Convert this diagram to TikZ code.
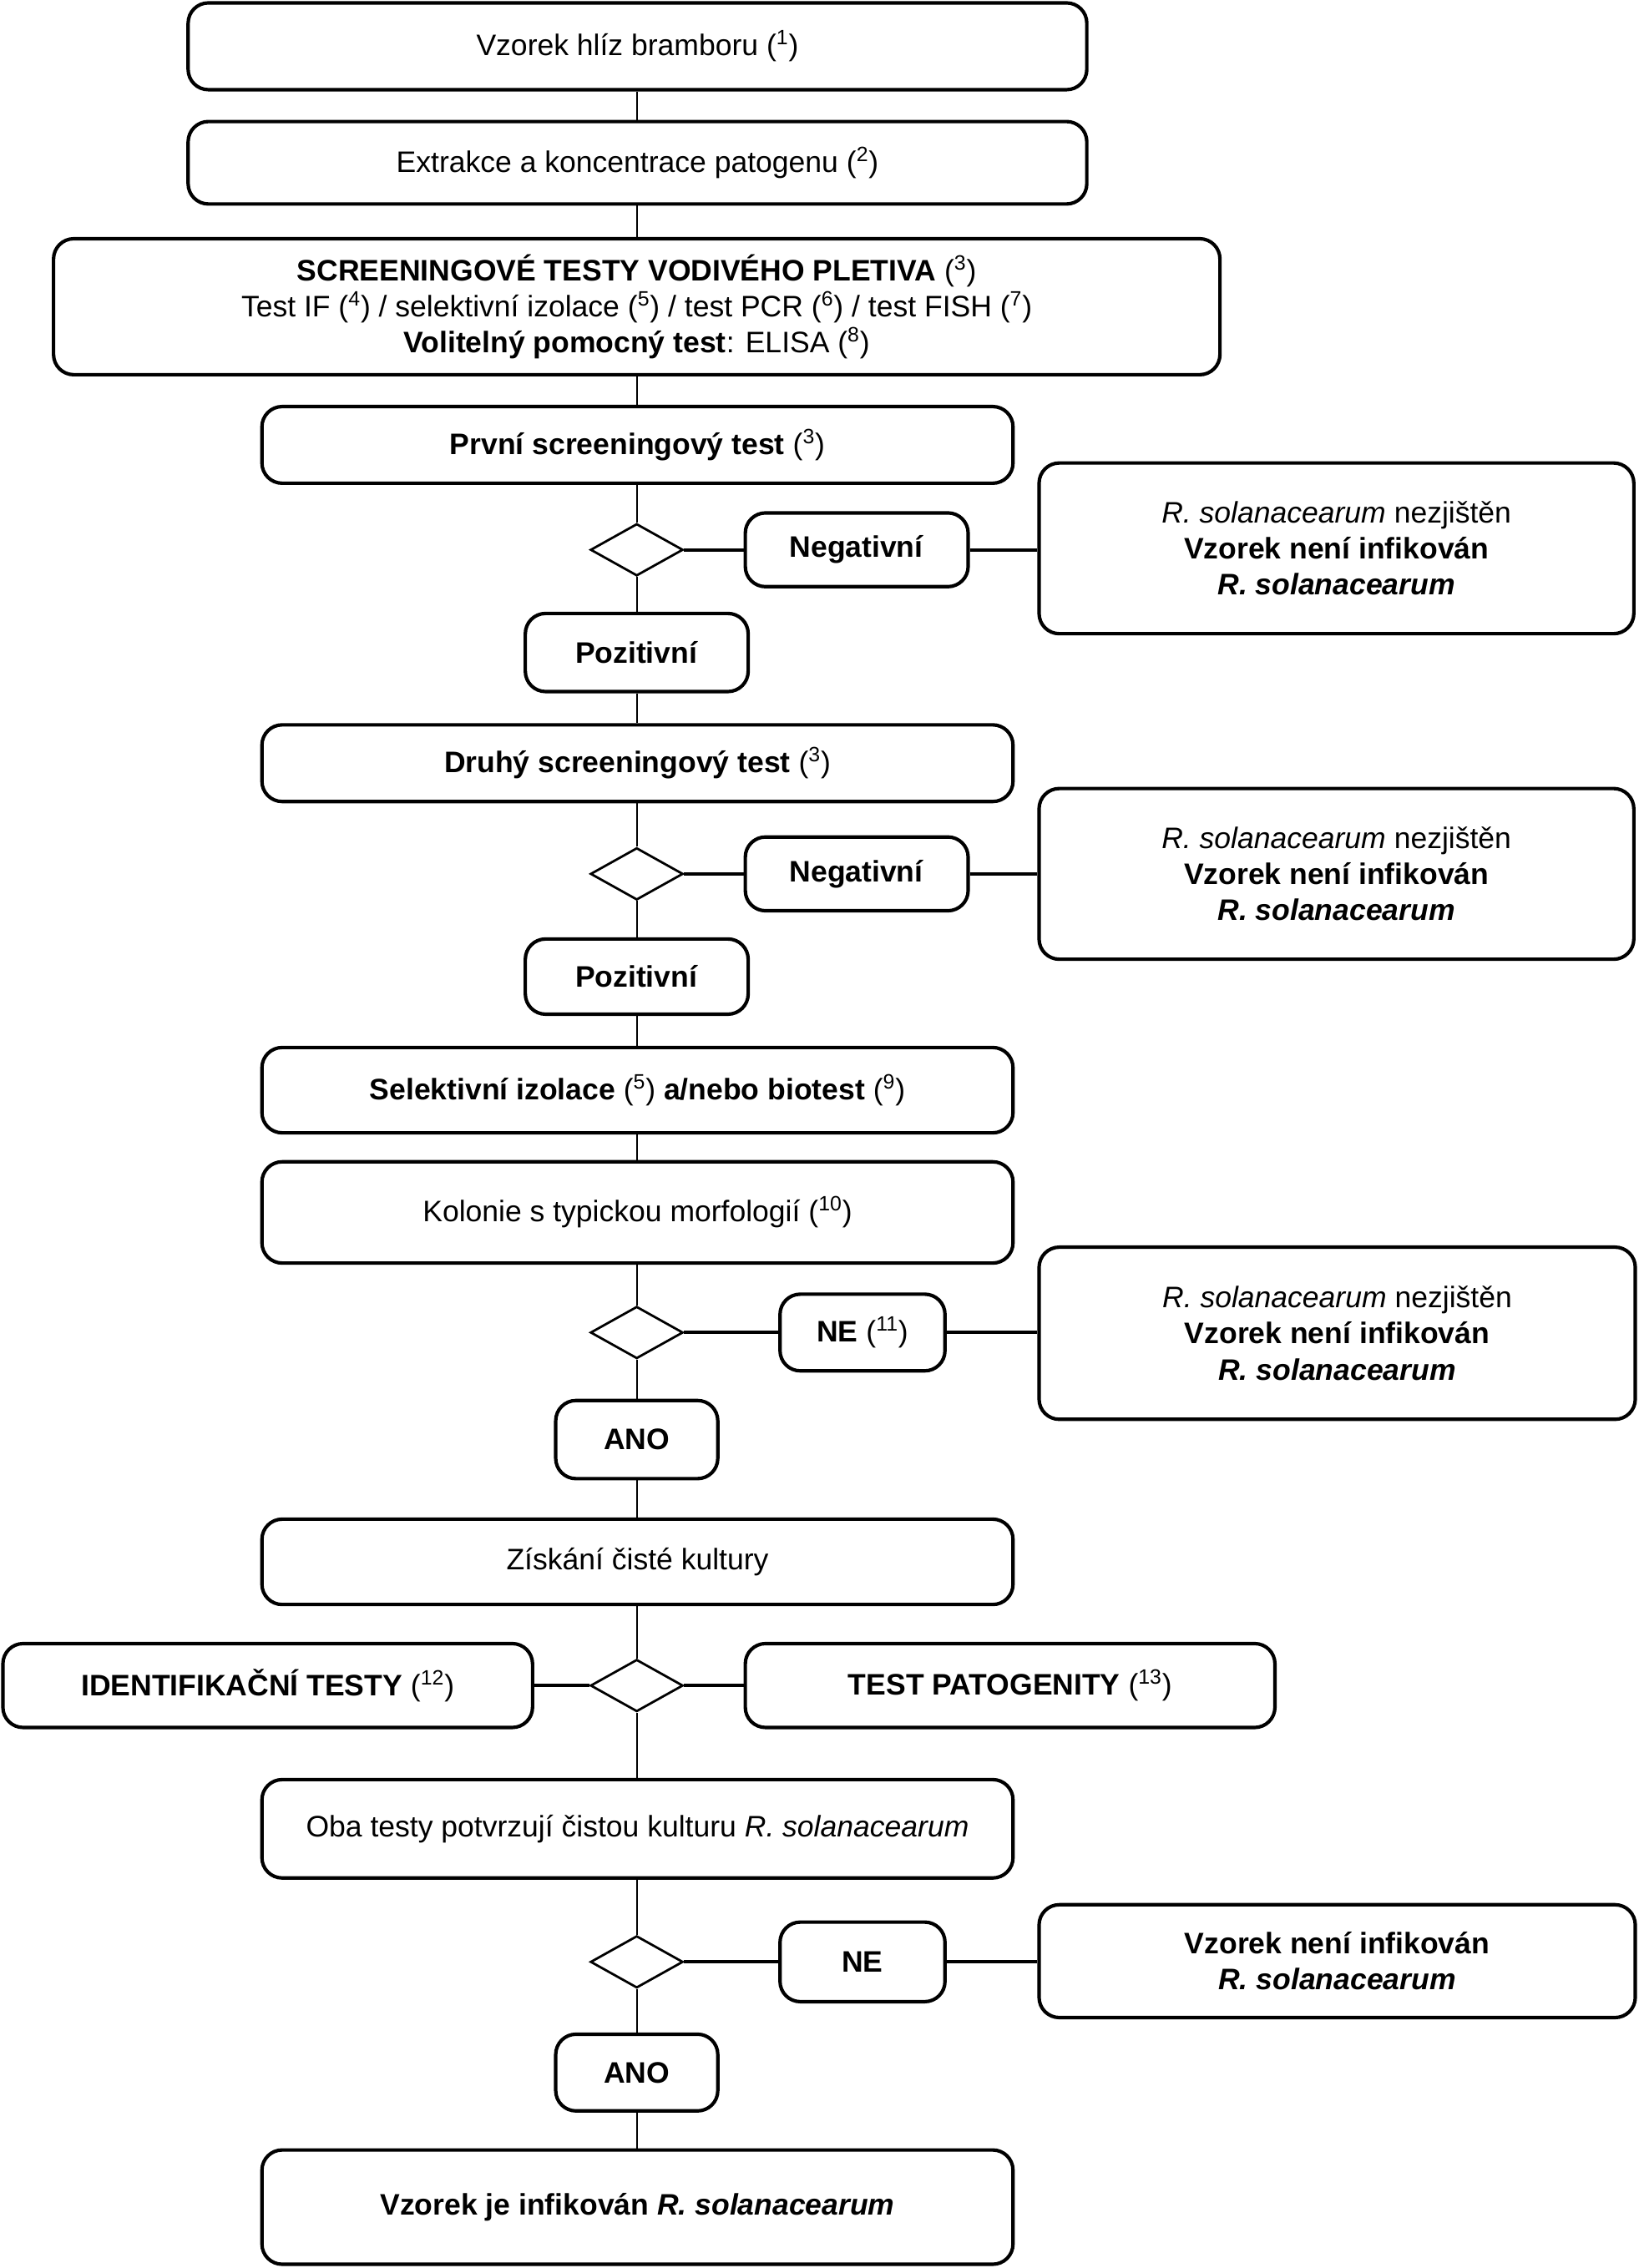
\documentclass[tikz,border=0pt]{standalone}
\usepackage{fontspec}
\setmainfont{Liberation Sans}
\usetikzlibrary{shapes.geometric}
\newcommand{\fnr}[1]{(\textsuperscript{#1})}
\tikzset{
  box/.style={draw, line width=2.4pt, rounded corners=14pt, align=center, inner sep=0pt,
    font=\fontsize{20.5}{25}\selectfont},
  dia/.style={draw, diamond, line width=1.6pt, inner sep=0pt, minimum width=64pt, minimum height=36pt},
  vline/.style={line width=1.3pt},
  hline/.style={line width=2.4pt},
}
\begin{document}
\begin{tikzpicture}[x=1pt,y=-1pt]
\useasboundingbox (0,0) rectangle (1132,1567.6);
% main column
\node[box, minimum width=621pt, minimum height=60pt] (b1) at (440.5,32) {Vzorek hlíz bramboru \fnr{1}};
\node[box, minimum width=621pt, minimum height=57pt] (b2) at (440.5,112.5) {Extrakce a koncentrace patogenu \fnr{2}};
\node[box, minimum width=806pt, minimum height=94pt] (b3) at (440,212) {\textbf{SCREENINGOVÉ TESTY VODIVÉHO PLETIVA} \fnr{3}\\
Test IF \fnr{4} / selektivní izolace \fnr{5} / test PCR \fnr{6} / test FISH \fnr{7}\\
\textbf{Volitelný pomocný test}: ELISA \fnr{8}};
\node[box, minimum width=519pt, minimum height=53pt] (b4) at (440.5,307.5) {\textbf{První screeningový test} \fnr{3}};
\node[dia] (d1) at (440,380) {};
\node[box, minimum width=154pt, minimum height=51pt] (n1) at (592,380) {\textbf{Negativní}};
\node[box, minimum width=411pt, minimum height=118pt] (r1) at (923.5,379) {\textit{R. solanacearum} nezjištěn\\ \textbf{Vzorek není infikován}\\ \textbf{\textit{R. solanacearum}}};
\node[box, minimum width=154pt, minimum height=54pt] (p1) at (440,451) {\textbf{Pozitivní}};
\node[box, minimum width=519pt, minimum height=53pt] (b5) at (440.5,527.5) {\textbf{Druhý screeningový test} \fnr{3}};
\node[dia] (d2) at (440,604) {};
\node[box, minimum width=154pt, minimum height=51pt] (n2) at (592,604) {\textbf{Negativní}};
\node[box, minimum width=411pt, minimum height=118pt] (r2) at (923.5,604) {\textit{R. solanacearum} nezjištěn\\ \textbf{Vzorek není infikován}\\ \textbf{\textit{R. solanacearum}}};
\node[box, minimum width=154pt, minimum height=52pt] (p2) at (440,675) {\textbf{Pozitivní}};
\node[box, minimum width=519pt, minimum height=59pt] (b6) at (440.5,753.5) {\textbf{Selektivní izolace} \fnr{5} \textbf{a/nebo biotest} \fnr{9}};
\node[box, minimum width=519pt, minimum height=70pt] (b7) at (440.5,838) {Kolonie s typickou morfologií \fnr{10}};
\node[dia] (d3) at (440,921) {};
\node[box, minimum width=114pt, minimum height=53pt] (ne1) at (596,921) {\textbf{NE} \fnr{11}};
\node[box, minimum width=412pt, minimum height=119pt] (r3) at (924,921.5) {\textit{R. solanacearum} nezjištěn\\ \textbf{Vzorek není infikován}\\ \textbf{\textit{R. solanacearum}}};
\node[box, minimum width=112pt, minimum height=54pt] (a1) at (440,995) {\textbf{ANO}};
\node[box, minimum width=519pt, minimum height=59pt] (b8) at (440.5,1079.5) {Získání čisté kultury};
\node[dia] (d4) at (440,1165) {};
\node[box, minimum width=366pt, minimum height=58pt] (id) at (185,1165) {\textbf{IDENTIFIKAČNÍ TESTY} \fnr{12}};
\node[box, minimum width=366pt, minimum height=58pt] (tp) at (698,1165) {\textbf{TEST PATOGENITY} \fnr{13}};
\node[box, minimum width=519pt, minimum height=68pt] (b9) at (440.5,1264) {Oba testy potvrzují čistou kulturu \textit{R. solanacearum}};
\node[dia] (d5) at (440,1356) {};
\node[box, minimum width=114pt, minimum height=55pt] (ne2) at (596,1356) {\textbf{NE}};
\node[box, minimum width=412pt, minimum height=78pt] (r4) at (924,1355.5) {\textbf{Vzorek není infikován}\\ \textbf{\textit{R. solanacearum}}};
\node[box, minimum width=112pt, minimum height=53pt] (a2) at (440,1432.5) {\textbf{ANO}};
\node[box, minimum width=519pt, minimum height=79pt] (b10) at (440.5,1525.5) {\textbf{Vzorek je infikován \textit{R. solanacearum}}};
% vertical connectors
\foreach \u/\v in {b1/b2,b2/b3,b3/b4,b4/d1,d1/p1,p1/b5,b5/d2,d2/p2,p2/b6,b6/b7,b7/d3,d3/a1,a1/b8,b8/d4,d4/b9,b9/d5,d5/a2,a2/b10}
  \draw[vline] (\u.south -| d1.north) -- (\v.north -| d1.north);
% horizontal connectors
\draw[hline] (d1.east) -- (n1.west |- d1.east);
\draw[hline] (n1.east |- d1.east) -- (r1.west |- d1.east);
\draw[hline] (d2.east) -- (n2.west |- d2.east);
\draw[hline] (n2.east |- d2.east) -- (r2.west |- d2.east);
\draw[hline] (d3.east) -- (ne1.west |- d3.east);
\draw[hline] (ne1.east |- d3.east) -- (r3.west |- d3.east);
\draw[hline] (id.east |- d4.west) -- (d4.west);
\draw[hline] (d4.east) -- (tp.west |- d4.east);
\draw[hline] (d5.east) -- (ne2.west |- d5.east);
\draw[hline] (ne2.east |- d5.east) -- (r4.west |- d5.east);
\end{tikzpicture}
\end{document}
